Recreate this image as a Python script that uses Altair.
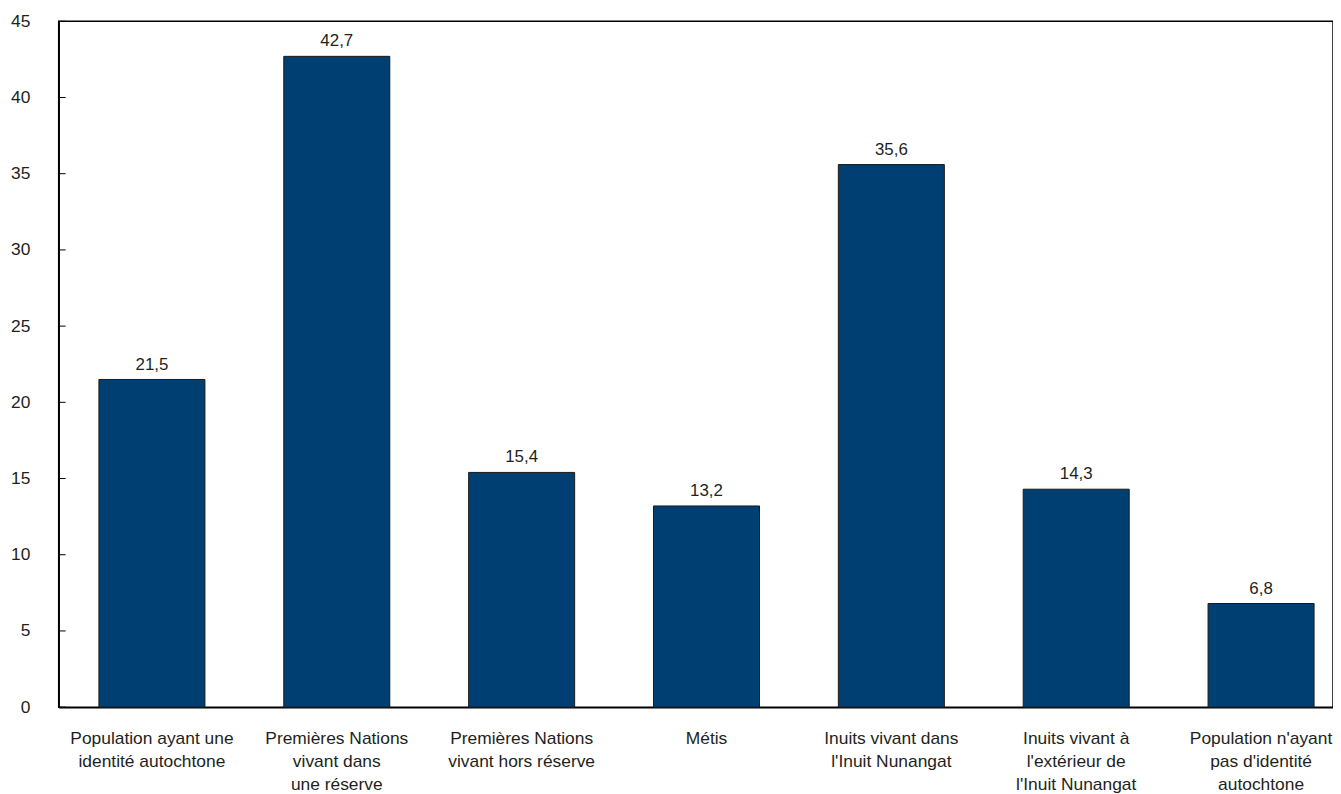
import altair as alt
import pandas as pd

categories = [
    "Population ayant une|identité autochtone",
    "Premières Nations|vivant dans|une réserve",
    "Premières Nations|vivant hors réserve",
    "Métis",
    "Inuits vivant dans|l'Inuit Nunangat",
    "Inuits vivant à|l'extérieur de|l'Inuit Nunangat",
    "Population n'ayant|pas d'identité|autochtone",
]
values = [21.5, 42.7, 15.4, 13.2, 35.6, 14.3, 6.8]
y_ticks = [0, 5, 10, 15, 20, 25, 30, 35, 40, 45]

FONT = "Liberation Sans, Arial, sans-serif"
TEXT_COLOR = "#231F20"
BAR_COLOR = "#003F72"

df = pd.DataFrame({"cat": categories, "val": values})
ticks_df = pd.DataFrame({"t": y_ticks})

x_enc = alt.X(
    "cat:N",
    sort=None,
    scale=alt.Scale(paddingInner=0.4265, paddingOuter=0.16, align=0.68),
    axis=alt.Axis(
        title=None,
        labelAngle=0,
        labelExpr="split(datum.label, '|')",
        labelFont=FONT,
        labelFontSize=17.5,
        labelColor=TEXT_COLOR,
        labelLineHeight=23,
        labelPadding=23,
        labelLimit=0,
        ticks=False,
        domainColor="black",
        domainWidth=1.5,
    ),
)
y_enc = alt.Y(
    "val:Q",
    scale=alt.Scale(domain=[0, 45], nice=False),
    axis=alt.Axis(
        title=None,
        values=y_ticks,
        tickSize=0,
        labelPadding=29,
        labelFont=FONT,
        labelFontSize=17.5,
        labelColor=TEXT_COLOR,
        grid=False,
        domainColor="black",
        domainWidth=1.5,
    ),
)

bars = alt.Chart(df).mark_bar(
    color=BAR_COLOR, stroke="#1a1a1a", strokeWidth=1
).encode(x=x_enc, y=y_enc)

labels = alt.Chart(df).transform_calculate(
    lbl="replace(format(datum.val, '.1f'), '.', ',')"
).mark_text(
    dy=-10, baseline="alphabetic", font=FONT, fontSize=17, color=TEXT_COLOR
).encode(x=alt.X("cat:N", sort=None), y=alt.Y("val:Q"), text="lbl:N")

tick_marks = alt.Chart(ticks_df).mark_rule(color="black", strokeWidth=1).encode(
    y=alt.Y("t:Q"), x=alt.value(0), x2=alt.value(7)
)

chart = alt.layer(bars, labels, tick_marks).properties(
    width=1282,
    height=690,
    padding={"left": 51, "top": 11, "right": 0, "bottom": 84},
    autosize=alt.AutoSizeParams(type="none"),
).configure_view(stroke="black", strokeWidth=1.5)

chart.save("out.html", embed_options={"renderer": "svg", "actions": False})
